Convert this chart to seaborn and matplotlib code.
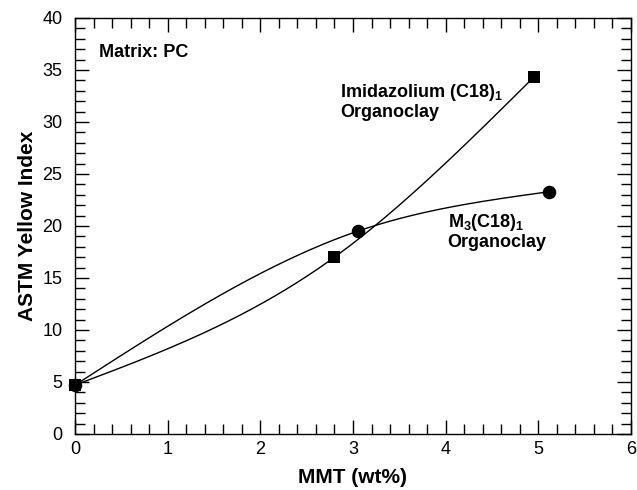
import numpy as np
import pandas as pd
import matplotlib
matplotlib.use("Agg")
import matplotlib.pyplot as plt
from matplotlib.ticker import MultipleLocator
import seaborn as sns

# MMT loading (wt%) and ASTM yellow index for the two organoclays
imid_mmt = [0.0, 2.8, 4.95]
imid_yi = [4.7, 17.0, 34.3]
m3_mmt = [0.0, 3.05, 5.12]
m3_yi = [4.7, 19.5, 23.3]

x_ticks = [0, 1, 2, 3, 4, 5, 6]
y_ticks = [0, 5, 10, 15, 20, 25, 30, 35, 40]

sns.set_style("ticks")
plt.rcParams["font.family"] = ["Liberation Sans", "DejaVu Sans"]
plt.rcParams["mathtext.fontset"] = "custom"
plt.rcParams["mathtext.rm"] = "Liberation Sans:bold"
plt.rcParams["mathtext.bf"] = "Liberation Sans:bold"
plt.rcParams["mathtext.default"] = "bf"
for k in ["text.color", "axes.labelcolor", "xtick.color", "ytick.color",
          "axes.edgecolor"]:
    plt.rcParams[k] = "black"

fig = plt.figure(figsize=(6.37, 4.90), dpi=100)
ax = fig.add_axes([0.1177, 0.1143, 0.8729, 0.8490])


def natural_spline(x, y, n=300):
    # natural cubic spline through the measured points
    x = np.asarray(x, float)
    y = np.asarray(y, float)
    k = len(x)
    h = np.diff(x)
    A = np.zeros((k, k))
    r = np.zeros(k)
    A[0, 0] = A[-1, -1] = 1.0
    for i in range(1, k - 1):
        A[i, i - 1] = h[i - 1]
        A[i, i] = 2 * (h[i - 1] + h[i])
        A[i, i + 1] = h[i]
        r[i] = 6 * ((y[i + 1] - y[i]) / h[i] - (y[i] - y[i - 1]) / h[i - 1])
    M = np.linalg.solve(A, r)
    xs = np.linspace(x[0], x[-1], n)
    idx = np.clip(np.searchsorted(x, xs) - 1, 0, k - 2)
    x0, x1 = x[idx], x[idx + 1]
    hh = h[idx]
    ys = (M[idx] * (x1 - xs) ** 3 / (6 * hh)
          + M[idx + 1] * (xs - x0) ** 3 / (6 * hh)
          + (y[idx] / hh - M[idx] * hh / 6) * (x1 - xs)
          + (y[idx + 1] / hh - M[idx + 1] * hh / 6) * (xs - x0))
    return pd.DataFrame({"x": xs, "y": ys})


for xs, ys in [(imid_mmt, imid_yi), (m3_mmt, m3_yi)]:
    c = natural_spline(xs, ys)
    sns.lineplot(data=c, x="x", y="y", ax=ax, color="black", lw=1.0,
                 sort=False, estimator=None)

imid = pd.DataFrame({"x": imid_mmt, "y": imid_yi})
m3 = pd.DataFrame({"x": m3_mmt, "y": m3_yi})
sns.scatterplot(data=imid, x="x", y="y", ax=ax, marker="s", s=68,
                color="black", edgecolor="black", linewidth=0, clip_on=False,
                zorder=3)
sns.scatterplot(data=m3, x="x", y="y", ax=ax, marker="o", s=95,
                color="black", edgecolor="black", linewidth=0, clip_on=False,
                zorder=4)

ax.set_xlim(0, 6)
ax.set_ylim(0, 40)
ax.set_xticks(x_ticks)
ax.set_yticks(y_ticks)
ax.xaxis.set_minor_locator(MultipleLocator(0.2))
ax.yaxis.set_minor_locator(MultipleLocator(1))
ax.tick_params(which="both", direction="in", top=True, right=True,
               width=1.0, colors="black", labelsize=13)
ax.tick_params(which="major", length=10)
ax.tick_params(which="minor", length=7)
ax.tick_params(axis="x", which="major", pad=5)
ax.tick_params(axis="y", which="major", pad=9)
for s in ax.spines.values():
    s.set_linewidth(1.0)
    s.set_color("black")
    s.set_visible(True)

ax.set_xlabel("MMT (wt%)", fontsize=15, fontweight="bold", labelpad=7)
ax.set_ylabel("ASTM Yellow Index", fontsize=15, fontweight="bold", labelpad=4)

ax.text(0.26, 36.25, "Matrix: PC", fontsize=13, fontweight="bold",
        ha="left", va="baseline")
ax.text(2.86, 32.4, r"Imidazolium (C18)$_1$", fontsize=13, fontweight="bold",
        ha="left", va="baseline")
ax.text(2.86, 30.5, "Organoclay", fontsize=13, fontweight="bold",
        ha="left", va="baseline")
ax.text(4.02, 19.9, r"M$_3$(C18)$_1$", fontsize=13, fontweight="bold",
        ha="left", va="baseline")
ax.text(4.02, 18.0, "Organoclay", fontsize=13, fontweight="bold",
        ha="left", va="baseline")

fig.savefig("out.png", dpi=100)
